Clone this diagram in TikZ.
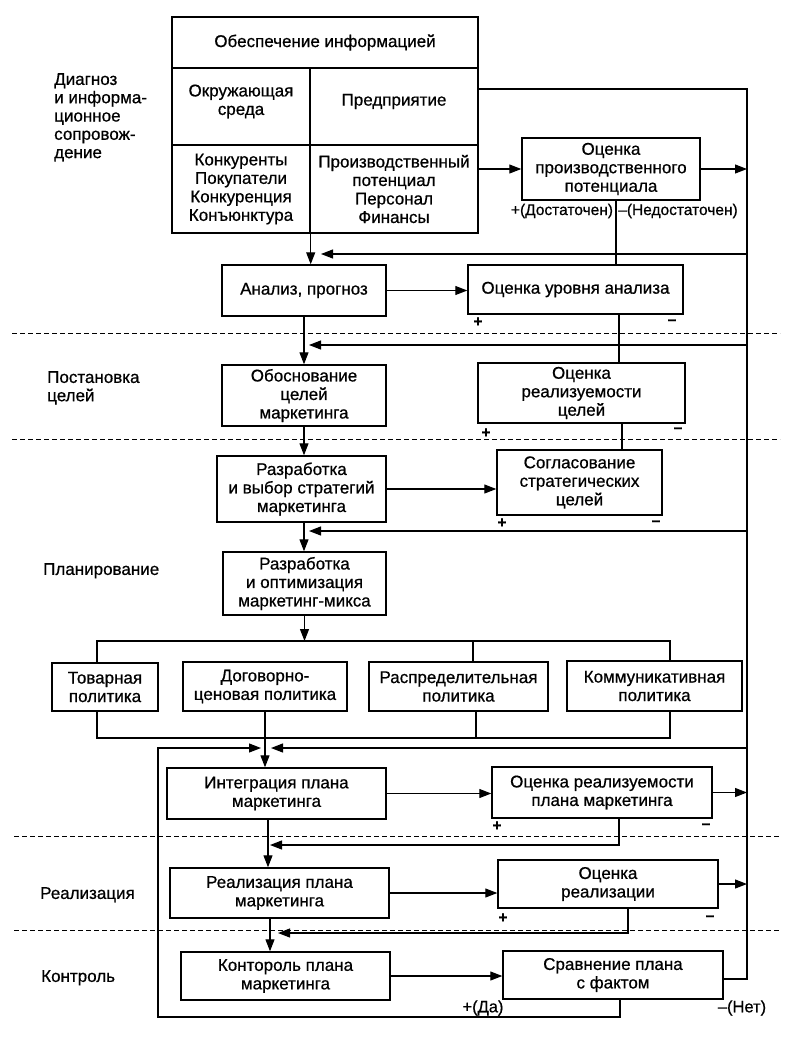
\documentclass[tikz,border=0pt]{standalone}
\usepackage{fontspec}
\setmainfont{Liberation Sans}[FakeBold=0.7]
\usetikzlibrary{arrows.meta}
\begin{document}
\begin{tikzpicture}[x=1pt,y=-1pt,
  box/.style={draw,line width=1.4pt,inner sep=1pt,align=center,font=\fontsize{17}{18.5}\selectfont},
  txt/.style={inner sep=0pt,align=center,font=\fontsize{17}{18.5}\selectfont},
  lbl/.style={inner sep=0pt,align=left,anchor=north west,font=\fontsize{17}{18.3}\selectfont},
  sgn/.style={inner sep=0pt,font=\fontsize{15.5}{17}\selectfont},
  bsg/.style={inner sep=0pt,font=\bfseries\fontsize{15.5}{17}\selectfont},
  ln/.style={line width=1.1pt},
  arr/.style={-{Triangle[length=12pt,width=9pt]}},
  dsh/.style={line width=0.9pt,dash pattern=on 5pt off 3pt}]
\useasboundingbox (0,0) rectangle (802,1045);
% ---------- table ----------
\node[box,minimum width=306pt,minimum height=51pt] (title) at (325,42.5) {Обеспечение информацией};
\node[box,minimum width=138pt,minimum height=77pt] (env) at (241,106.5) {};
\node[box,minimum width=168pt,minimum height=77pt] (ent) at (394,106.5) {};
\node[txt] (envt) at ([yshift=5pt]env.center) {Окружающая\\среда};
\node[txt] (entt) at ([yshift=5pt]ent.center) {Предприятие};
\node[box,minimum width=138pt,minimum height=88pt] (envl) at (241,189) {Конкуренты\\Покупатели\\Конкуренция\\Конъюнктура};
\node[box,minimum width=168pt,minimum height=88pt] (entl) at (394,189) {Производственный\\потенциал\\Персонал\\Финансы};
% ---------- boxes ----------
\node[box,minimum width=178pt,minimum height=62pt] (opp) at (611,169) {Оценка\\производственного\\потенциала};
\node[box,minimum width=164pt,minimum height=51pt] (ana) at (304,290.5) {Анализ, прогноз};
\node[box,minimum width=215pt,minimum height=49pt] (oua) at (575.5,289.5) {Оценка уровня анализа};
\node[box,minimum width=164pt,minimum height=61pt] (obo) at (304,395.5) {Обоснование\\целей\\маркетинга};
\node[box,minimum width=207pt,minimum height=60pt] (orc) at (581.5,393) {Оценка\\реализуемости\\целей};
\node[box,minimum width=169pt,minimum height=66pt] (raz) at (301.5,489) {Разработка\\и выбор стратегий\\маркетинга};
\node[box,minimum width=165pt,minimum height=65pt] (sog) at (579.5,482.5) {Согласование\\стратегических\\целей};
\node[box,minimum width=163pt,minimum height=63pt] (opt) at (304.5,583.5) {Разработка\\и оптимизация\\маркетинг-микса};
\node[box,minimum width=106pt,minimum height=48pt] (tov) at (105,687) {Товарная\\политика};
\node[box,minimum width=164pt,minimum height=49pt] (dog) at (265,686.5) {Договорно-\\ценовая политика};
\node[box,minimum width=179pt,minimum height=49pt] (ras) at (458.5,686.5) {Распределительная\\политика};
\node[box,minimum width=175pt,minimum height=50pt] (kom) at (654.5,686) {Коммуникативная\\политика};
\node[box,minimum width=219pt,minimum height=51pt] (int) at (276.5,793.5) {Интеграция плана\\маркетинга};
\node[box,minimum width=220pt,minimum height=51pt] (orp) at (602,792.5) {Оценка реализуемости\\плана маркетинга};
\node[box,minimum width=219pt,minimum height=50pt] (rea) at (279.5,893) {Реализация плана\\маркетинга};
\node[box,minimum width=220pt,minimum height=48pt] (ore) at (608,884) {Оценка\\реализации};
\node[box,minimum width=209pt,minimum height=48pt] (kon) at (285.5,976) {Контороль плана\\маркетинга};
\node[box,minimum width=220pt,minimum height=48pt] (srv) at (613,975) {Сравнение плана\\с фактом};
% ---------- stage labels ----------
\node[lbl] (l1) at (54,73) {Диагноз\\и информа-\\ционное\\сопровож-\\дение};
\node[lbl] (l2) at (47,371) {Постановка\\целей};
\node[lbl] (l3) at (43,563) {Планирование};
\node[lbl] (l4) at (40,887) {Реализация};
\node[lbl] (l5) at (41,970) {Контроль};
% ---------- separators ----------
\draw[dsh] (12,333) -- (780,333);
\draw[dsh] (12,439) -- (780,439);
\draw[dsh] (14,836) -- (780,836);
\draw[dsh] (14,930) -- (780,930);
% ---------- coordinates ----------
\coordinate (rt) at (747,89);
\coordinate (rb) at (747,979);
\coordinate (c1) at (616,0);
\coordinate (c2) at (619,0);
\coordinate (c3) at (622,0);
\coordinate (f1) at (321,254);
\coordinate (f2) at (309,345);
\coordinate (f3) at (309,531);
\coordinate (bl) at (97,641);
\coordinate (br) at (670,641);
\coordinate (xr) at (473,0);
\coordinate (ul) at (97,738);
\coordinate (ur) at (670,738);
\coordinate (xu) at (476,0);
\coordinate (f4r) at (271,748);
\coordinate (f4l) at (261,748);
\coordinate (lt) at (158,748);
\coordinate (lp) at (158,1017);
\coordinate (xs) at (620,0);
\coordinate (x268) at (268,0);
\coordinate (f5) at (270,845);
\coordinate (x628) at (628,0);
\coordinate (f6) at (278,933);
\coordinate (x270) at (270,0);
% ---------- connectors ----------
\draw[ln] (ent.east |- rt) -- (rt) -- (rb) -- (srv.east |- rb);
\draw[ln,arr] (entl.east |- opp.west) -- (opp.west);
\draw[ln,arr] (opp.east) -- (opp.east -| rt);
\draw[ln] (opp.south -| c1) -- (oua.north -| c1);
\draw[ln,arr] (envl.south east) -- (envl.south east |- ana.north);
\draw[ln,arr] (rt |- f1) -- (f1);
\draw[ln,arr] (ana.east) -- (ana.east -| oua.west);
\draw[ln] (oua.south -| c2) -- (orc.north -| c2);
\draw[ln,arr] (ana.south) -- (obo.north);
\draw[ln,arr] (rt |- f2) -- (f2);
\draw[ln] (orc.south -| c3) -- (sog.north -| c3);
\draw[ln,arr] (obo.south) -- (obo.south |- raz.north);
\draw[ln,arr] (raz.east) -- (raz.east -| sog.west);
\draw[ln,arr] (rt |- f3) -- (f3);
\draw[ln,arr] (raz.south -| obo.south) -- (opt.north -| obo.south);
\draw[ln,arr] (opt.south) -- (opt.south |- bl);
\draw[ln] (tov.north -| bl) -- (bl) -- (br) -- (kom.north -| br);
\draw[ln] (ras.north -| xr) -- (xr |- bl);
\draw[ln] (tov.south -| ul) -- (ul) -- (ur) -- (kom.south -| ur);
\draw[ln] (ras.south -| xu) -- (xu |- ul);
\draw[ln,arr] (dog.south) -- (dog.south |- int.north);
\draw[ln,arr] (rt |- f4r) -- (f4r);
\draw[ln,arr] (srv.south -| xs) -- (xs |- lp) -- (lp) -- (lt) -- (f4l);
\draw[ln,arr] (int.east) -- (int.east -| orp.west);
\draw[ln,arr] (orp.east) -- (orp.east -| rt);
\draw[ln,arr] (orp.south -| c2) -- (c2 |- f5) -- (f5);
\draw[ln,arr] (int.south -| x268) -- (rea.north -| x268);
\draw[ln,arr] (rea.east) -- (rea.east -| ore.west);
\draw[ln,arr] (ore.east) -- (ore.east -| rt);
\draw[ln,arr] (ore.south -| x628) -- (x628 |- f6) -- (f6);
\draw[ln,arr] (rea.south -| x270) -- (kon.north -| x270);
\draw[ln,arr] (kon.east) -- (kon.east -| srv.west);
% ---------- signs ----------
\node[sgn] (p1) at (562,211) {+(Достаточен)};
\node[sgn] (m1) at (678,211) {–(Недостаточен)};
\node[bsg] (p2) at (478,322) {+};
\node[bsg] (m2) at (672,322) {–};
\node[bsg] (p3) at (486,433) {+};
\node[bsg] (m3) at (678,430) {–};
\node[bsg] (p4) at (502,523) {+};
\node[bsg] (m4) at (656,523) {–};
\node[bsg] (p5) at (497,826) {+};
\node[bsg] (m5) at (706,826) {–};
\node[bsg] (p6) at (503,918) {+};
\node[bsg] (m6) at (710,918) {–};
\node[sgn,font=\fontsize{16.5}{18}\selectfont] (p7) at (483,1008) {+(Да)};
\node[sgn,font=\fontsize{16.5}{18}\selectfont] (m7) at (742,1008) {–(Нет)};
\end{tikzpicture}
\end{document}
